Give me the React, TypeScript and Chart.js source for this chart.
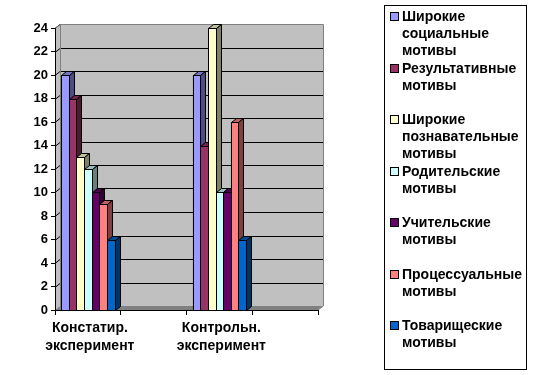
import React, { useEffect, useRef } from "react";
import { Chart, registerables } from "chart.js";

Chart.register(...registerables);

const categories: (string | string[])[] = [["Констатир.", "эксперимент"], ["Контрольн.", "эксперимент"]];
const seriesNames: string[][] = [
  ["Широкие", "социальные", "мотивы"],
  ["Результативные", "мотивы"],
  ["Широкие", "познавательные", "мотивы"],
  ["Родительские", "мотивы"],
  ["Учительские", "мотивы"],
  ["Процессуальные", "мотивы"],
  ["Товарищеские", "мотивы"],
];
const seriesColors = ["#9999FF", "#993366", "#FFFFCC", "#CCFFFF", "#660066", "#FF8080", "#0066CC"];
const shirokieSocialnye = [20, 20];
const rezultativnye = [18, 14];
const shirokiePoznavatelnye = [13, 24];
const roditelskie = [12, 10];
const uchitelskie = [10, 10];
const processualnye = [9, 16];
const tovarishcheskie = [6, 6];
const seriesValues = [shirokieSocialnye, rezultativnye, shirokiePoznavatelnye, roditelskie, uchitelskie, processualnye, tovarishcheskie];
const yTicks = [0, 2, 4, 6, 8, 10, 12, 14, 16, 18, 20, 22, 24];

const DX = 5;
const DY = -4;
const FONT = "'Liberation Sans', Arial, sans-serif";

function shade(hex: string, f: number): string {
  const n = parseInt(hex.slice(1), 16);
  const r = Math.round(((n >> 16) & 255) * f);
  const g = Math.round(((n >> 8) & 255) * f);
  const b = Math.round((n & 255) * f);
  return `rgb(${r},${g},${b})`;
}

const wallPlugin = {
  id: "wall3d",
  beforeDraw(chart: any) {
    const { ctx, chartArea: a, scales } = chart;
    const y = scales.y;
    ctx.save();
    ctx.lineWidth = 1;
    ctx.fillStyle = "#C0C0C0";
    ctx.beginPath();
    ctx.moveTo(a.left, a.bottom);
    ctx.lineTo(a.left, a.top);
    ctx.lineTo(a.left + DX, a.top + DY);
    ctx.lineTo(a.left + DX, a.bottom + DY);
    ctx.closePath();
    ctx.fill();
    ctx.fillRect(a.left + DX, a.top + DY, a.right - a.left, a.bottom - a.top);
    ctx.fillStyle = "#808080";
    ctx.beginPath();
    ctx.moveTo(a.left, a.bottom);
    ctx.lineTo(a.right, a.bottom);
    ctx.lineTo(a.right + DX, a.bottom + DY);
    ctx.lineTo(a.left + DX, a.bottom + DY);
    ctx.closePath();
    ctx.fill();
    ctx.strokeStyle = "#000";
    for (const v of yTicks) {
      if (v === 0) continue;
      const py = Math.round(y.getPixelForValue(v)) + 0.5;
      ctx.beginPath();
      ctx.moveTo(a.left, py);
      ctx.lineTo(a.left + DX, py + DY);
      ctx.lineTo(a.right + DX, py + DY);
      ctx.stroke();
    }
    ctx.strokeStyle = "#808080";
    ctx.beginPath();
    ctx.moveTo(a.left + 0.5, a.top);
    ctx.lineTo(a.left + DX + 0.5, a.top + DY + 0.5);
    ctx.lineTo(a.right + DX + 0.5, a.top + DY + 0.5);
    ctx.lineTo(a.right + DX + 0.5, a.bottom + DY);
    ctx.lineTo(a.right, a.bottom);
    ctx.moveTo(a.left + DX + 0.5, a.top + DY);
    ctx.lineTo(a.left + DX + 0.5, a.bottom + DY);
    ctx.stroke();
    ctx.restore();
  },
  afterDatasetsDraw(chart: any) {
    const { ctx } = chart;
    ctx.save();
    ctx.lineWidth = 1;
    ctx.strokeStyle = "#000";
    chart.data.datasets.forEach((ds: any, i: number) => {
      const meta = chart.getDatasetMeta(i);
      const color = seriesColors[i];
      meta.data.forEach((el: any, j: number) => {
        if (ds.data[j] == null) return;
        const p = el.getProps(["x", "y", "base", "width"], true);
        const l = Math.round(p.x - p.width / 2) + 0.5;
        const r = Math.round(p.x + p.width / 2) + 0.5;
        const t = Math.round(p.y) + 0.5;
        const b = Math.round(p.base) + 0.5;
        ctx.fillStyle = shade(color, 0.75);
        ctx.beginPath();
        ctx.moveTo(l, t);
        ctx.lineTo(l + DX, t + DY);
        ctx.lineTo(r + DX, t + DY);
        ctx.lineTo(r, t);
        ctx.closePath();
        ctx.fill();
        ctx.stroke();
        ctx.fillStyle = shade(color, 0.5);
        ctx.beginPath();
        ctx.moveTo(r, t);
        ctx.lineTo(r + DX, t + DY);
        ctx.lineTo(r + DX, b + DY);
        ctx.lineTo(r, b);
        ctx.closePath();
        ctx.fill();
        ctx.stroke();
        ctx.fillStyle = color;
        ctx.fillRect(l, t, r - l, b - t);
        ctx.strokeRect(l, t, r - l, b - t);
      });
    });
    ctx.restore();
  },
};

export default function App() {
  const ref = useRef<HTMLCanvasElement | null>(null);
  useEffect(() => {
    if (!ref.current) return;
    const labels: (string | string[])[] = [categories[0], "", categories[1], ""];
    const chart = new Chart(ref.current, {
      type: "bar",
      data: {
        labels,
        datasets: seriesValues.map((vals, i) => ({
          label: seriesNames[i].join(" "),
          data: [vals[0], null, vals[1], null],
          backgroundColor: seriesColors[i],
          borderColor: "#000",
          borderWidth: 1,
          categoryPercentage: 0.81,
          barPercentage: 1,
        })),
      },
      options: {
        responsive: false,
        animation: false,
        events: [],
        layout: { padding: { left: 0, top: 28, right: 218, bottom: 0 } },
        plugins: { legend: { display: false }, tooltip: { enabled: false } },
        scales: {
          x: {
            afterFit: (s: any) => { s.height = 65; },
            grid: { offset: true, drawOnChartArea: false, drawTicks: true, tickLength: 5, color: "#000" },
            border: { display: true, color: "#000" },
            ticks: {
              color: "#000",
              font: { family: FONT, size: 14, weight: "bold", lineHeight: 1.3 },
              padding: 4,
              labelOffset: 2,
              maxRotation: 0,
              autoSkip: false,
            },
          },
          y: {
            min: 0,
            max: 24,
            afterFit: (s: any) => { s.width = 55; },
            grid: { drawOnChartArea: false, drawTicks: true, tickLength: 4, color: "#000" },
            border: { display: true, color: "#000" },
            ticks: {
              stepSize: 2,
              color: "#000",
              font: { family: FONT, size: 13, weight: "bold" },
              padding: 3,
            },
          },
        },
      },
      plugins: [wallPlugin],
    } as any);
    return () => chart.destroy();
  }, []);

  return (
    <div style={{ position: "absolute", left: 0, top: 0, width: 536, height: 375, background: "#fff" }}>
      <canvas ref={ref} width={536} height={375} style={{ position: "absolute", left: 0, top: 0 }} />
      <div
        style={{
          position: "absolute",
          left: 384,
          top: 5,
          width: 143,
          height: 365,
          border: "1px solid #000",
          boxSizing: "border-box",
          fontFamily: FONT,
          fontWeight: "bold",
          fontSize: 14,
          lineHeight: "17px",
          color: "#000",
        }}
      >
        {seriesNames.map((lines, i) => (
          <div key={i} style={{ position: "absolute", left: 5, top: 2 + i * 51.5, whiteSpace: "nowrap" }}>
            <span
              style={{
                position: "absolute",
                left: 0,
                top: 4,
                width: 7,
                height: 7,
                border: "1px solid #000",
                background: seriesColors[i],
              }}
            />
            <div style={{ marginLeft: 12 }}>
              {lines.map((t, j) => (
                <div key={j}>{t}</div>
              ))}
            </div>
          </div>
        ))}
      </div>
    </div>
  );
}
